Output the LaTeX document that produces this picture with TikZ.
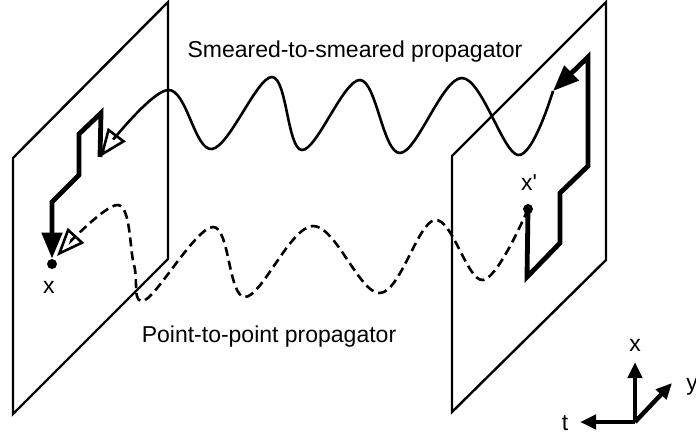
\documentclass[tikz,border=0pt]{standalone}
\usepackage{fontspec}
\setmainfont{Liberation Sans}
\usetikzlibrary{arrows.meta}

\begin{document}
\begin{tikzpicture}[
  x=0.5pt, y=-0.5pt,
  plane/.style={draw, line width=1.2pt},
  link/.style={line width=2.4pt, -{Triangle[length=13pt,width=10pt]}},
  wave/.style={line width=1.3pt, -{Triangle[open,length=14pt,width=11pt]}},
  pwave/.style={wave, dash pattern=on 4.5pt off 2.5pt},
  axis/.style={line width=2.2pt, -{Triangle[length=8pt,width=7pt]}},
  dot/.style={circle, fill, inner sep=0pt, minimum size=5pt},
  lbl/.style={font=\fontsize{11.5}{13}\selectfont, inner sep=1pt},
]
\useasboundingbox (0,0) rectangle (696,435);
% the two time slices
\draw[plane] (13,158) -- (168,2) -- (168,259) -- (13,414) -- cycle;
\draw[plane] (452,156) -- (606,2) -- (606,260) -- (452,412) -- cycle;
% end points
\node[dot] (x) at (52,264) {};
\node[dot] (xp) at (528,209) {};
\node[lbl] (xlab) at (49,287) {x};
\node[lbl] (xplab) at (529,183) {x\textquotesingle};
\coordinate (ls) at (100,157);
\coordinate (ws) at (553,91);
\coordinate (pe) at (57,256);
% smearing paths
\draw[link] (xp.center) -- (527,277) -- (560,243) -- (560,193) -- (588,166) -- (588,57) -- (ws);
\draw[link] (ls) -- (101,113) -- (79,134) -- (79,175) -- (52,202) -- (x);
% propagators
\draw[wave] plot[smooth, tension=0.6] coordinates {(ws) (518,155) (462,78) (400,153) (360,80) (302,150) (272,77) (212,149) (168,90) (ls)};
\draw[pwave] plot[smooth, tension=0.6] coordinates {(xp) (483,280) (435,220) (380,293) (313,226) (245,297) (213,227) (145,300) (134,265) (118,205) (pe)};
\node[lbl] (smr) at (355,52) {Smeared-to-smeared propagator};
\node[lbl] (pnt) at (269,337) {Point-to-point propagator};
% axes
\coordinate (o) at (635,422);
\coordinate (ax) at (635,362);
\coordinate (ay) at (672,383);
\coordinate (at) at (580,422);
\draw[axis] (o) -- (ax);
\draw[axis] (o) -- (ay);
\draw[axis] (o) -- (at);
\node[lbl] (axl) at (635,345) {x};
\node[lbl] (ayl) at (692,387) {y};
\node[lbl] (atl) at (565,423) {t};
\end{tikzpicture}
\end{document}
